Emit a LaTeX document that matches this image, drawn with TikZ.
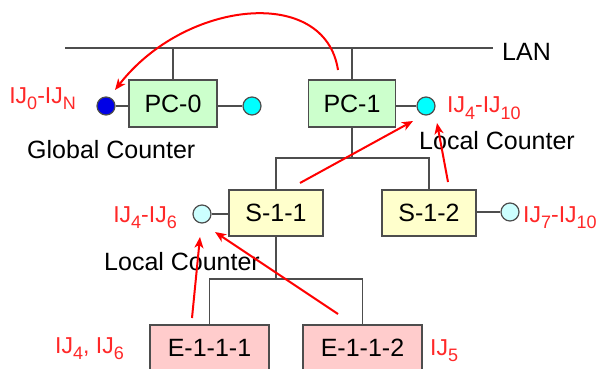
\documentclass[tikz,border=0pt]{standalone}
\usepackage{fontspec}
\setmainfont{Liberation Sans}
\usetikzlibrary{arrows.meta}
\definecolor{linegray}{RGB}{77,77,77}
\definecolor{labred}{RGB}{255,40,40}
\definecolor{pcgreen}{RGB}{204,255,204}
\definecolor{syellow}{RGB}{255,255,204}
\definecolor{epink}{RGB}{255,204,204}
\definecolor{ccyan}{RGB}{0,255,255}
\definecolor{lcyan}{RGB}{204,255,255}
\definecolor{cblue}{RGB}{0,0,230}
\newcommand{\mysub}[1]{\raisebox{-6pt}{\fontsize{18}{18}\selectfont #1}}
\tikzset{
  wire/.style={draw=linegray, line width=1.4pt},
  box/.style={draw=linegray, line width=1.4pt, rectangle, inner sep=0pt, font=\fontsize{25}{30}\selectfont},
  ctr/.style={circle, draw=linegray, line width=1.2pt, minimum size=18pt, inner sep=0pt},
  blk/.style={inner sep=0pt, font=\fontsize{25}{30}\selectfont},
  rlab/.style={inner sep=0pt, text=labred, font=\fontsize{23}{28}\selectfont},
  redarrow/.style={draw=red, line width=2pt, -{Stealth[length=11pt,width=9pt,inset=3pt]}}
}
\begin{document}
\begin{tikzpicture}[x=1pt,y=-1pt]
\clip (0,0) rectangle (600,369);
\fill[white] (0,0) rectangle (600,369);
% LAN
\coordinate (lanL) at (65,48);
\coordinate (lanR) at (493,48);
\draw[wire] (lanL) -- (lanR);
\node[blk, anchor=base west] (lan) at (502,60) {LAN};
% PCs
\node[box, fill=pcgreen, minimum width=88pt, minimum height=47pt] (pc0) at (173,103.5) {PC-0};
\node[box, fill=pcgreen, minimum width=87pt, minimum height=47pt] (pc1) at (352,103.5) {PC-1};
\draw[wire] (pc0.north) -- (pc0.north |- lanL);
\draw[wire] (pc1.north) -- (pc1.north |- lanL);
% counters at PCs
\node[ctr, fill=cblue] (gc) at (106,106) {};
\node[ctr, fill=ccyan] (c0) at (252,106) {};
\node[ctr, fill=ccyan] (c1) at (426,106) {};
\draw[wire] (gc) -- (gc -| pc0.west);
\draw[wire] (pc0.east |- c0) -- (c0);
\draw[wire] (pc1.east |- c1) -- (c1);
\node[rlab, anchor=base east] (lgc) at (76,103) {IJ\mysub{0}-IJ\mysub{N}};
\node[blk, anchor=base west] (tgc) at (27,158) {Global Counter};
\node[rlab, anchor=base west] (lc1) at (447,113) {IJ\mysub{4}-IJ\mysub{10}};
\node[blk, anchor=base west] (tc1) at (419,149) {Local Counter};
% switches
\node[box, fill=syellow, minimum width=94pt, minimum height=46pt] (s11) at (276,213) {S-1-1};
\node[box, fill=syellow, minimum width=94pt, minimum height=46pt] (s12) at (429,213) {S-1-2};
\coordinate (j1) at (352,158);
\draw[wire] (pc1.south) -- (j1);
\draw[wire] (s11.north) |- (s12.north |- j1) -- (s12.north);
\node[ctr, fill=lcyan] (c11) at (202,214) {};
\node[ctr, fill=lcyan] (c12) at (510,212) {};
\draw[wire] (c11) -- (c11 -| s11.west);
\draw[wire] (s12.east |- c12) -- (c12);
\node[rlab, anchor=base east] (l11) at (177,222) {IJ\mysub{4}-IJ\mysub{6}};
\node[blk, anchor=base west] (t11) at (104,270) {Local Counter};
\node[rlab, anchor=base west] (l12) at (523,222) {IJ\mysub{7}-IJ\mysub{10}};
% end nodes
\node[box, fill=epink, minimum width=119pt, minimum height=46pt] (e1) at (209.5,348) {E-1-1-1};
\node[box, fill=epink, minimum width=119pt, minimum height=46pt] (e2) at (362.5,348) {E-1-1-2};
\coordinate (j2) at (276,279);
\draw[wire] (s11.south) -- (j2);
\draw[wire] (e1.north) |- (e2.north |- j2) -- (e2.north);
\node[rlab, anchor=base west] (le1) at (55,353) {IJ\mysub{4}, IJ\mysub{6}};
\node[rlab, anchor=base west] (le2) at (430,355) {IJ\mysub{5}};
% red arrows
\coordinate (a1s) at (338,70);
\coordinate (a1e) at (115,90);
\draw[redarrow] (a1s) .. controls (325,-15) and (185,0) .. (a1e);
\coordinate (a2s) at (192,318);
\coordinate (a2e) at (200,237);
\draw[redarrow] (a2s) -- (a2e);
\coordinate (a3s) at (338,314);
\coordinate (a3e) at (215,232);
\draw[redarrow] (a3s) -- (a3e);
\coordinate (a4s) at (300,183);
\coordinate (a4e) at (413,121);
\draw[redarrow] (a4s) -- (a4e);
\coordinate (a5s) at (448,182);
\coordinate (a5e) at (437,123);
\draw[redarrow] (a5s) -- (a5e);
\end{tikzpicture}
\end{document}
